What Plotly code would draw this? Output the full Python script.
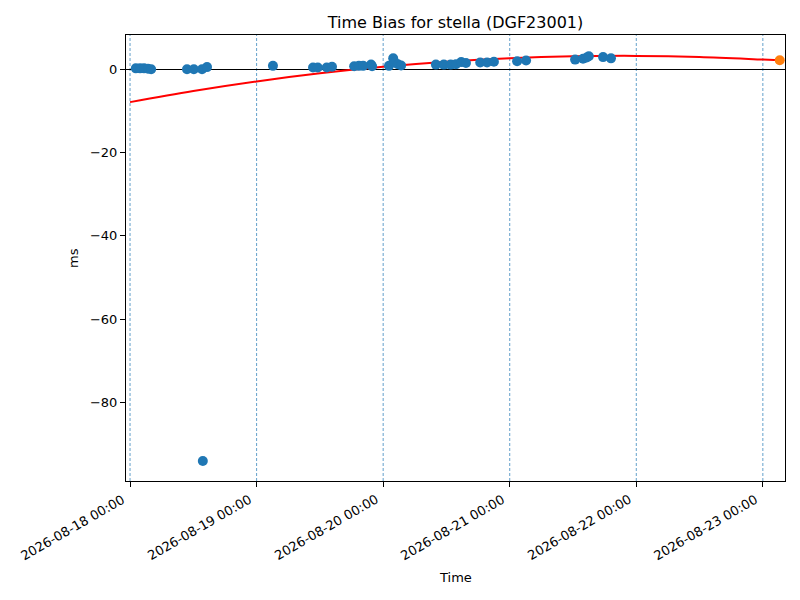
import plotly.graph_objects as go

# measured time bias samples (ms)
times = [
    "2026-08-18 01:06", "2026-08-18 01:54", "2026-08-18 02:39", "2026-08-18 03:24", "2026-08-18 04:00",
    "2026-08-18 10:48", "2026-08-18 12:06", "2026-08-18 13:39", "2026-08-18 13:48", "2026-08-18 14:36",
    "2026-08-19 03:06", "2026-08-19 10:42", "2026-08-19 11:36", "2026-08-19 13:18", "2026-08-19 14:18",
    "2026-08-19 18:30", "2026-08-19 19:24", "2026-08-19 20:12", "2026-08-19 21:42", "2026-08-19 21:54",
    "2026-08-20 01:06", "2026-08-20 01:54", "2026-08-20 02:12", "2026-08-20 02:48", "2026-08-20 03:24",
    "2026-08-20 10:00", "2026-08-20 11:30", "2026-08-20 12:48", "2026-08-20 13:48", "2026-08-20 14:48",
    "2026-08-20 15:42", "2026-08-20 18:24", "2026-08-20 19:42", "2026-08-20 21:00",
    "2026-08-21 01:24", "2026-08-21 03:06", "2026-08-21 12:24", "2026-08-21 13:54", "2026-08-21 14:36",
    "2026-08-21 15:00", "2026-08-21 17:42", "2026-08-21 19:12",
]
bias_ms = [
    0.2, 0.2, 0.2, 0.1, 0.0,
    0.0, 0.0, 0.0, -94.0, 0.5,
    0.8, 0.4, 0.4, 0.4, 0.6,
    0.7, 0.8, 0.8, 1.1, 0.7,
    0.8, 2.6, 1.6, 1.2, 0.9,
    1.1, 1.1, 1.1, 1.2, 1.7,
    1.5, 1.6, 1.6, 1.8,
    1.9, 2.1, 2.3, 2.5, 2.8,
    3.1, 2.9, 2.6,
]

# fitted curve
fit_times = [
    "2026-08-18 00:00", "2026-08-18 12:00", "2026-08-19 00:00", "2026-08-19 12:00",
    "2026-08-20 00:00", "2026-08-20 12:00", "2026-08-21 00:00", "2026-08-21 12:00",
    "2026-08-22 00:00", "2026-08-22 12:00", "2026-08-23 00:00", "2026-08-23 03:12",
]
fit_ms = [-7.9, -5.24, -2.94, -1.0, 0.56, 1.77, 2.61, 3.08, 3.19, 2.94, 2.32, 2.15]

# predicted point
pred_time = ["2026-08-23 03:12"]
pred_ms = [2.15]

day_marks = ["2026-08-18", "2026-08-19", "2026-08-20", "2026-08-21", "2026-08-22", "2026-08-23"]
day_labels = [d + " 00:00" for d in day_marks]
y_ticks = [0, -20, -40, -60, -80]

font = "DejaVu Sans"

# page body has an 8px margin, so the figure is 784x584 inside the 800x600 window
W, H = 784, 584

fig = go.Figure()
fig.add_trace(go.Scatter(x=fit_times, y=fit_ms, mode="lines", line=dict(color="red", width=2, shape="spline"),
                         showlegend=False))
fig.add_trace(go.Scatter(x=times, y=bias_ms, mode="markers", marker=dict(color="#1f77b4", size=10),
                         showlegend=False))
fig.add_trace(go.Scatter(x=pred_time, y=pred_ms, mode="markers", marker=dict(color="#ff7f0e", size=10),
                         showlegend=False))

for d in day_marks:
    fig.add_shape(type="line", xref="x", yref="paper", x0=d, x1=d, y0=0, y1=1,
                  line=dict(color="#1f77b4", width=0.7, dash="3px,2px"), layer="below")

# rotated date labels, right-aligned at the tick like autofmt_xdate
annos = [dict(text=lab, xref="x", yref="paper", x=d, y=0, xanchor="right", yanchor="top",
              textangle=-30, showarrow=False, yshift=-8, font=dict(size=13))
         for d, lab in zip(day_marks, day_labels)]
annos += [
    dict(text="Time", xref="paper", yref="paper", x=0.5, y=-(577 - 481) / 446, showarrow=False,
         yanchor="middle", font=dict(size=13)),
    dict(text="ms", xref="paper", yref="paper", x=-(126 - 73) / 659, y=0.5, showarrow=False,
         textangle=-90, xanchor="center", font=dict(size=13)),
]

fig.update_layout(
    width=W, height=H,
    margin=dict(l=118, r=7, t=27, b=111),
    plot_bgcolor="white", paper_bgcolor="white",
    font=dict(family=font, size=13, color="black"),
    title=dict(text="Time Bias for stella (DGF23001)", x=0.5, xref="paper", y=1 - 14 / H,
               yref="container", yanchor="middle", font=dict(size=16)),
    xaxis=dict(range=["2026-08-17 23:14", "2026-08-23 04:12"], tickvals=day_marks, showticklabels=False,
               showgrid=False, zeroline=False, showline=True, mirror=True, linecolor="black",
               linewidth=1, ticks="outside", ticklen=5, tickcolor="black"),
    yaxis=dict(range=[-98.8, 8.2], tickvals=y_ticks, ticktext=["0", "\u221220", "\u221240", "\u221260", "\u221280"],
               showgrid=False, zeroline=True, zerolinecolor="black", zerolinewidth=1, showline=True, mirror=True,
               linecolor="black", linewidth=1, ticks="outside", ticklen=5, tickcolor="black"),
    annotations=annos,
)

fig.write_html("out.html")
